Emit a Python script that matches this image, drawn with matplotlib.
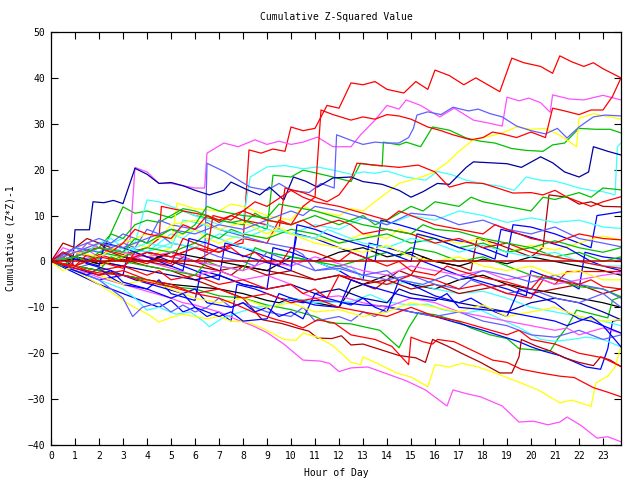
import matplotlib
matplotlib.use("Agg")
import matplotlib.pyplot as plt

# ------------------------------------------------------------
# Data: each walk is a list of (hour, cumulative value) knots
# ------------------------------------------------------------
red_walks = [
    [(0, 0), (1, 1), (2, -1), (3, 1), (4, -0.5), (5, 2), (6, 0), (7, 3), (8, 4), (8.25, 24.3), (8.75, 23.6),
     (9.25, 24.5), (9.75, 24), (10, 29.3), (10.5, 28.5), (11, 29), (11.5, 34), (12, 33.4), (12.5, 38.9),
     (13, 38.5), (13.5, 39.2), (14, 37.5), (14.7, 36.7), (15.2, 39.2), (15.7, 37.5), (16, 41.7), (16.6, 40.5),
     (17.2, 38.5), (17.7, 40), (18.2, 38.5), (18.7, 37), (19.2, 44.3), (19.7, 43.3), (20.4, 42.5), (20.9, 41),
     (21.2, 44.8), (21.7, 43.5), (22.2, 42.5), (22.6, 43.3), (23, 42), (23.75, 40)],
    [(0, 0), (1, -1), (2, 1.5), (3, 0), (4, 2), (5, 1), (6, 3), (7, 2), (8, 5), (9, 4), (9.5, 9), (10, 8),
     (10.5, 12), (11, 14), (11.25, 33), (11.75, 32), (12.5, 30.8), (13, 31.5), (13.5, 31), (14, 32),
     (14.5, 31.7), (15, 31), (15.7, 29.3), (16.25, 28.5), (16.75, 27.6), (17.5, 26.5), (18, 27), (18.4, 28.2),
     (18.8, 27.8), (19.4, 27), (20, 28.2), (20.6, 27), (20.9, 33.4), (21.4, 32.8), (22, 32), (22.5, 33),
     (23, 33), (23.4, 36), (23.75, 40)],
    [(0, 0), (1, 2), (2, 3), (3, 1.5), (4, 3), (4.5, 5), (4.6, 12), (5.5, 11), (6.5, 10), (7, 8.5), (7.5, 10),
     (8, 9), (9, 8), (9.5, 7), (9.75, 16), (10.5, 15), (11, 14), (11.5, 13), (12, 14.5), (12.5, 18),
     (12.75, 21.4), (13.5, 21), (14.5, 20.5), (15.3, 21), (16, 19.5), (16.6, 16.2), (17.3, 17.2), (18, 17),
     (18.6, 16), (19.25, 14.9), (20, 15), (20.5, 14.5), (21, 15.5), (21.5, 14), (22, 13), (22.5, 12),
     (23, 13), (23.75, 14.1)],
    [(0, 0), (1, -1), (2, -2), (3, -1), (4, -3), (4.5, -2), (5, -4), (6, -3), (7, -5), (8, -4), (9, -6),
     (10, -5), (10.5, -7), (11, -6), (11.5, -8), (12, -3), (13, -4), (14, -5), (15, -3), (16, -4), (17, -6),
     (18, -5), (19, -7), (20, -8), (20.5, -4), (21, -5), (21.5, -2.2), (23.75, -2.2)],
    [(0, 0), (0.5, 1), (1, -1), (1.5, 1.5), (2, 0), (3, -1.5), (3.5, 2), (4, 1), (5, -0.5), (5.5, 5), (6, 4),
     (7, 2), (7.5, 3), (8, 1), (8.5, 2), (9, 0), (9.5, -1), (10, 3), (11, 2), (12, 0), (12.5, 2), (13, 1),
     (14, -1), (14.5, 0), (15, -2), (16, -3), (16.5, -1), (17, -2), (18, -3.5), (19, -4.5), (20, -6),
     (20.5, -3), (21, -4), (22, -5), (22.5, -4), (23, -5.5), (23.75, -6)],
    [(0, 0), (0.5, 2), (1, 1), (2, 3), (2.5, 2), (3, 4), (3.5, 7), (4, 6), (5, 5), (5.5, 8), (6, 7),
     (6.5, 10), (7, 9), (8, 11), (8.5, 10), (9, 9), (10, 8), (10.5, 9), (11, 7.5), (12, 9), (12.5, 8),
     (13, 6), (14, 7), (15, 6), (16, 4), (17, 5), (18, 3), (19, 4), (20, 2), (21, 1), (22, 0), (23, -1),
     (23.75, -1.5)],
    [(0, 0), (1, -1), (2, -3), (3, -2), (4, -4), (5, -5), (6, -7), (7, -6), (8, -8), (9, -7), (10, -9),
     (11, -8), (12, -10), (13, -11), (14, -12), (15, -10), (16, -12), (17, -13), (18, -14.5), (19, -16),
     (19.5, -15), (20, -17), (21, -18), (22, -20), (23, -21), (23.75, -22.9)],
    [(0, 0), (1, -1.5), (2, -2.5), (3, -3), (4, -4.5), (5, -5.5), (6, -7), (7, -8), (7.75, -9.5), (8.4, -11),
     (9.4, -12.7), (10, -13.5), (10.5, -14.5), (11.1, -12.7), (11.8, -13.4), (12.5, -16), (13.5, -17),
     (14.2, -18.5), (14.9, -22.5), (15, -16.5), (15.5, -17.5), (15.9, -18), (16.1, -17), (16.8, -17.5),
     (17.6, -19.5), (18.4, -21.5), (19, -22), (19.6, -23.5), (20.4, -24.3), (21.2, -25), (21.8, -25.3),
     (22.6, -27.5), (23.2, -28.5), (23.75, -29.5)],
    [(0, 0), (1, -1), (2, 1), (3, 0), (4, 2), (5, 1), (6, 3), (6.5, 2), (6.75, 10), (7.5, 9), (8.5, 13),
     (9, 12), (10, 15.5), (10.5, 14), (11, 13), (12, 12), (13, 10.5), (14, 9), (14.5, 11), (15, 10), (16, 8),
     (17, 7), (18, 6), (18.5, 8), (19, 7), (20, 5), (21, 4), (22, 6), (23, 5), (23.75, 4.7)],
]

darkred_walks = [
    [(0, 0), (0.5, 1.5), (1, 3), (1.5, 2), (2, 4), (2.5, 3), (3, 2), (4, 1), (5, 0), (6, -1), (7, -2),
     (7.5, -3), (8, -1), (9, -2), (10, -3), (11, -4), (12, -3), (13, -5), (13.5, -6), (14, -4), (14.5, -2),
     (15, -3), (15.5, 1), (16, 0), (17, -1), (17.5, -2), (17.75, 5), (18.5, 4), (19, 3), (19.5, 2), (20, 1),
     (20.5, 3), (20.75, 14.5), (21.5, 14), (22, 12.5), (22.5, 13), (23, 12), (23.75, 11.9)],
    [(0, 0), (1, 1), (2, -0.5), (3, 0.5), (4, -1), (5, -2), (6, -4), (7, -6), (8, -8), (8.8, -12.7),
     (9.6, -13.5), (10.25, -14.5), (10.75, -15.2), (11.1, -16.7), (11.7, -16.8), (12.1, -16.2), (12.5, -18.2),
     (13, -18), (13.6, -19), (14.5, -20.5), (15.2, -21), (15.6, -22), (15.9, -17), (16.5, -18.4), (17.1, -20),
     (17.9, -22), (18.7, -24.3), (19.2, -24.3), (19.5, -20.8), (19.6, -17), (20.2, -18.4), (20.8, -19.5),
     (21.4, -21), (22, -22), (22.6, -22.7), (22.9, -20.8), (23.3, -21.5), (23.75, -22.9)],
    [(0, 0), (0.5, 4), (1, 3), (1.5, 5), (2, 4), (2.5, 2), (3, 1), (4, 0), (5, -1), (5.5, 1), (6, 0),
     (7, -2), (8, -1), (9, -3), (10, -2), (11, -4), (12, -3), (13, -5), (14, -4), (15, -6), (16, -5),
     (17, -7), (18, -6), (19, -5), (20, -7), (21, -6), (22, -5), (23, -7), (23.75, -6)],
]

magenta_walks = [
    [(0, 0), (0.5, -1), (1, 1), (1.5, 2.5), (2, 1), (2.5, 3), (3, 2), (3.3, 5), (3.5, 20.5), (4, 19.5),
     (4.5, 17), (5, 17), (5.5, 16.5), (6, 16), (6.4, 16), (6.5, 23.6), (7.2, 25.8), (7.8, 25), (8.5, 26.5),
     (9, 25.5), (9.5, 26.2), (10, 25.5), (10.5, 26), (11.1, 27.1), (11.75, 25), (12.5, 25), (12.9, 27.6),
     (13.5, 30.8), (14, 34), (14.5, 33.2), (14.8, 35.2), (15.4, 34), (16.2, 31.5), (16.8, 33.4), (17.6, 30.8),
     (18.2, 30.2), (18.8, 29.5), (19, 35.8), (19.5, 35), (19.9, 35.6), (20.4, 34.6), (20.8, 32.5),
     (20.9, 36.3), (21.6, 35.4), (22.2, 35.2), (23, 36.2), (23.75, 35.2)],
    [(0, 0), (0.5, -1), (1, -2), (1.5, -2.5), (2, -3.5), (3, -5), (4, -6.5), (5, -8), (5.5, -9), (6, -9.5),
     (7, -11), (7.75, -12.7), (8.4, -14), (9, -15.5), (9.7, -18), (10.5, -21.5), (11.2, -21.7),
     (11.6, -22.2), (12, -24), (12.5, -23.2), (13.2, -23), (14, -24.5), (14.8, -26), (15.6, -28),
     (16.5, -31.5), (16.75, -28), (17.3, -28.8), (17.9, -29.5), (18.8, -31.5), (19.5, -35), (20.1, -34.8),
     (20.7, -35.6), (21.2, -35), (21.5, -33.9), (22.1, -35.8), (22.75, -38.5), (23.2, -38.2), (23.75, -39.3)],
    [(0, 0), (0.5, 3), (1, 2), (1.5, 1), (2, 0), (2.5, 3), (3, 2), (4, 0), (5, -1.5), (6, -3), (7, -2),
     (8, -4), (9, -3), (10, -5), (10.5, -7), (11, -8), (12, -7.5), (13, -9), (14, -10), (15, -8), (16, -9),
     (17, -11), (18, -12), (19, -13), (20, -14), (21, -15), (21.5, -14.5), (22, -16), (23, -14.5),
     (23.75, -15.6)],
    [(0, 0), (1, 1), (1.5, 4), (2, 3), (3, 2), (4, 1), (5, 2), (6, 0), (7, -1), (8, -2), (9, 0), (10, -1),
     (11, 1), (12, -0.5), (13, -2), (14, -3), (15, -1), (16, -2), (17, -3), (18, -2), (19, -4), (20, -3),
     (21, -5), (22, -4), (23, -3), (23.75, -2.5)],
]

lightblue_walks = [
    [(0, 0), (1, -1.5), (2, 0), (3, -1), (4, 2), (5, 1), (6, 0), (6.4, -0.5), (6.5, 21.4), (7.25, 19.5),
     (8.3, 16.2), (9, 15.5), (9.5, 17), (10, 15.5), (10.75, 15), (11.25, 17), (11.8, 16), (11.9, 27.6),
     (12.5, 26.4), (13, 25.5), (13.5, 26), (14, 25.8), (14.5, 25.8), (14.9, 27), (15.1, 29), (15.25, 31.9),
     (15.7, 32.6), (16.25, 32), (16.75, 33.6), (17.4, 32.8), (17.8, 33.2), (18.3, 32.2), (18.8, 31.5),
     (19.4, 29.5), (20, 28.5), (20.6, 27.8), (21.1, 29), (21.5, 26.9), (22, 29.3), (22.6, 31.5),
     (23.1, 31.9), (23.75, 31.7)],
    [(0, 0), (1, -2), (2, -4), (2.5, -6), (3, -8), (3.4, -12), (3.8, -10), (4.5, -9), (5, -11), (5.5, -9.5),
     (6, -11), (6.5, -10), (7, -8), (7.5, -10), (8, -9), (9, -11), (10, -12), (10.5, -10), (11, -13),
     (12, -12), (12.5, -13), (13, -11), (13.5, -12), (14, -10), (15, -11), (16, -12), (17, -11), (18, -13),
     (19, -14), (20, -16), (21, -16.5), (22, -15), (23, -17), (23.75, -16)],
    [(0, 0), (1, 3), (2, 2), (3, 4), (3.5, 3), (4, 7), (4.5, 6), (5, 4), (6, 3), (7, 1), (8, 0), (8.5, -1),
     (9, 2), (9.5, 1), (10, 0), (11, -2), (12, -1.5), (13, -3), (14, -4), (15, -3), (16, -5), (17, -6),
     (17.5, -4), (18, -5), (19, -7), (20, -6), (21, -8), (22, -9), (23, -7), (23.75, -10)],
    [(0, 0), (0.5, 1), (1, 3), (2, 5), (2.5, 4), (3, 6), (3.5, 5), (4, 4), (4.5, 9), (5, 8), (6, 7),
     (6.5, 8.5), (7, 7), (8, 5.5), (9, 4), (10, 3), (10.5, 1.5), (11, -2), (12, -1), (13, -3), (14, -2),
     (14.5, -4), (15.5, -5), (16.5, -3), (17, -4), (18, -2), (19, -3), (20, -4.5), (21, -3), (22, -5),
     (23, -6), (23.75, -8)],
    [(0, 0), (1, 2), (2, 4), (3, 3), (4, 5), (5, 7), (6, 6), (7, 8), (8, 7), (9, 9), (10, 11), (10.5, 10),
     (11, 12), (12, 11), (13, 9.5), (14, 8), (15, 10.5), (16, 10), (17, 8), (18, 9), (19, 7), (20, 6),
     (21, 7.5), (22, 5), (23, 4), (23.75, 3.2)],
]

cyan_walks = [
    [(0, 0), (0.5, 2), (1, 1), (1.5, 3), (2, 2), (2.5, 4), (3, 5), (3.5, 4), (4, 13.4), (4.5, 13), (5, 12),
     (5.5, 11), (6, 10), (6.5, 9), (7, 8), (7.5, 10), (8, 9), (8.3, 18.4), (9, 20.6), (9.75, 20.9),
     (10.5, 20.2), (11.1, 20.6), (11.75, 19.9), (12.5, 19), (13, 19.5), (13.5, 19.2), (14, 19.7),
     (14.8, 18.4), (15.6, 17.7), (16.1, 19.6), (16.7, 18.9), (17.3, 17.7), (17.9, 17), (18.7, 16.4),
     (19.3, 15.5), (19.8, 18.4), (20.4, 17.7), (21, 17.5), (21.5, 16.8), (22, 16), (22.5, 15.5), (23, 15.2),
     (23.5, 14.5), (23.6, 25), (23.75, 25.8)],
    [(0, 0), (1, -2), (2, -4), (3, -6), (3.5, -8), (4, -10.6), (4.5, -10), (5.2, -11.5), (5.8, -11),
     (6.3, -12.8), (6.6, -14.2), (7.1, -12.5), (7.6, -11.5), (8.5, -10), (9.5, -9.5), (10, -8), (11, -9),
     (12, -8.8), (12.5, -8.8), (13.3, -7.2), (14, -8.8), (14.9, -9.5), (15.7, -9.3), (16.3, -10.5),
     (17.2, -11.3), (17.9, -10.6), (18.7, -12.5), (19.5, -14.4), (20.4, -17), (21, -17.4), (21.7, -17),
     (22.3, -16.5), (23, -17), (23.75, -18.6)],
    [(0, 0), (0.5, 1), (1, 3), (1.5, 2), (2, 4), (2.5, 5), (3, 3), (4, 2), (5, 6), (5.5, 5), (6, 7), (7, 5),
     (7.5, 4), (8, 3), (9, 2), (10, 1), (11, 0), (12, -2), (12.5, -1), (13, -4), (14, -5), (15, -4.5),
     (16, -6), (17, -7), (18, -6.5), (19, -8), (20, -10), (21, -11), (22, -12), (23, -13), (23.75, -14)],
    [(0, 0), (1, -1), (2, 1), (3, 3), (4, 2), (5, 4), (6, 3), (7, 6), (8, 5), (9, 7), (10, 6), (11, 8),
     (12, 7), (13, 9.5), (14, 8), (15, 10), (16, 9), (17, 11), (18, 10), (19, 8.5), (20, 9.5), (21, 8.5),
     (22, 9), (23, 7.5), (23.75, 7.2)],
    [(0, 0), (1, 1), (2, 3), (3, 2), (4, 4), (5, 3), (5.5, 9), (6, 8.5), (7, 7), (8, 6), (9, 8), (10, 6),
     (11, 5), (11.5, 7), (12, 6), (13, 4), (14, 3), (15, 5), (16, 4), (17, 2), (18, 3.5), (19, 2), (20, 1),
     (21, 2), (22, 0), (23, -1), (23.75, -1)],
]

green_walks = [
    [(0, 0), (1, 2), (2, 0.5), (3, 11.9), (3.5, 10.5), (4, 11), (5, 9.5), (5.5, 11), (6, 10), (7, 9),
     (7.5, 8.5), (8, 9), (8.5, 8), (9, 7), (9.25, 18.8), (10, 18.4), (10.5, 19.9), (11.1, 19.2),
     (11.75, 18.4), (12.5, 17.4), (12.9, 21.4), (13.4, 21), (13.8, 20.8), (13.85, 26), (14.5, 25.4),
     (14.8, 26), (15.4, 25), (15.9, 29.3), (16.6, 28.6), (17.3, 26.9), (17.9, 26.2), (18.5, 25.8),
     (19.2, 24.6), (19.8, 24.2), (20.5, 24), (20.9, 25.4), (21.4, 25.8), (22, 29), (22.7, 28.8),
     (23.3, 28.8), (23.75, 28)],
    [(0, 0), (1, -1), (2, -2), (3, -3), (4, -4), (5, -5.5), (6, -6), (7, -7.5), (8, -8), (9, -9.5),
     (10, -10.5), (11, -12), (11.6, -13.4), (12.5, -13.6), (13, -14.2), (13.7, -15), (14.5, -18.8),
     (14.9, -14.5), (15.3, -11.2), (16, -11.6), (16.9, -13), (17.5, -14.5), (18.3, -16), (19, -16.8),
     (19.5, -19), (20.2, -19.3), (20.8, -19.5), (21.1, -17), (21.5, -14.3), (21.9, -10.6), (22.6, -11.5),
     (23.2, -12.3), (23.4, -8.4), (23.75, -7.7)],
    [(0, 0), (0.5, 2), (1, 1), (1.5, 4), (2, 3), (2.5, 6), (3, 5), (3.5, 8), (4, 9), (4.5, 8.5), (5, 10),
     (5.5, 11.5), (6, 11), (7, 9), (8, 8), (8.5, 10.5), (9, 9), (10, 8), (11, 10), (11.5, 9), (12, 8),
     (12.5, 9), (13, 10), (13.5, 8), (14, 9), (15, 12), (15.5, 11), (16, 13), (17, 12), (17.5, 14), (18, 13),
     (19, 12), (20, 11), (20.5, 14), (21, 13.5), (22, 15), (22.5, 14), (23, 16), (23.75, 15.6)],
    [(0, 0), (1, -1), (2, -2), (2.5, 1), (3, 0), (4, -1), (5, -2), (6, -3), (6.5, 0), (7, -1), (8, -2),
     (8.5, 3), (9, 2), (10, 1), (11, 0), (12, -1), (13, 0.5), (14, 2), (14.5, 1), (15, 3), (16, 2), (17, 0),
     (18, 1), (19, -1), (20, -3), (21, -4), (22, -5.5), (23, -6), (23.75, -7.7)],
    [(0, 0), (0.5, -1), (1, 1), (1.5, 0), (2, 2), (3, 1), (4, 3), (5, 2), (6, 4), (6.5, 6), (7, 5), (7.5, 7),
     (8, 6), (9, 5), (10, 7), (11, 6), (12, 4), (13, 5), (14, 6), (15, 4), (16, 5), (17, 3), (18, 4), (19, 2),
     (20, 3), (21, 1), (22, 2), (23, 0), (23.75, 1)],
    [(0, 0), (1, 1), (2, 3), (3, 2), (3.5, 5), (4, 4), (5, 7), (5.5, 6), (6, 8), (6.5, 12), (7, 11), (8, 10),
     (9, 9.5), (9.5, 12.5), (10, 12), (11, 11), (12, 9.5), (13, 8), (14, 7), (15, 6), (15.5, 8), (16, 7),
     (17, 6.5), (18, 5), (19, 4), (20, 3), (21, 4.5), (22, 3), (23, 2), (23.75, 3)],
]

yellow_walks = [
    [(0, 0), (1, 1), (2, -1), (3, 2), (4, 1), (5, 3), (5.25, 12.7), (6, 11.5), (7, 11), (7.5, 12.5), (8, 12),
     (9, 10), (10, 9), (10.5, 12), (11, 11), (12, 10), (12.5, 11.5), (13, 11), (13.5, 13), (14, 15),
     (14.5, 17), (15.5, 18.5), (15.9, 19.3), (16.5, 21.5), (17, 24), (17.6, 26.5), (18.2, 27.2), (18.8, 28),
     (19.4, 29.3), (20, 28.8), (20.6, 29), (21.2, 27.5), (21.9, 25), (22, 31.2), (22.6, 32.2), (23.2, 31.6),
     (23.75, 31)],
    [(0, 0), (0.5, -1), (1, -2), (1.5, -3.5), (2, -5), (2.6, -7), (3.3, -9.5), (4.1, -11.7), (4.5, -13.2),
     (5, -12.2), (5.5, -11.5), (6, -12), (6.5, -12.5), (7, -12), (7.5, -13), (8.2, -13.2), (8.8, -14.5),
     (9.7, -17), (10.2, -17.2), (10.5, -15.6), (11.1, -16.5), (11.7, -18.2), (12.1, -20), (12.5, -22),
     (12.9, -22.5), (13, -20.8), (13.7, -22.5), (14.4, -24.3), (15, -25.2), (15.7, -27.3), (16, -22.5),
     (16.6, -23), (17.1, -22.2), (17.8, -23), (18.6, -24.5), (19.5, -26.3), (20.3, -28), (21.2, -30.8),
     (21.7, -30.2), (22.5, -31.6), (22.7, -26.5), (23.2, -25), (23.5, -23), (23.75, -18.6)],
    [(0, 0), (1, 1), (2, -1), (3, 1), (3.5, 4), (4, 3), (4.5, 6), (5, 5), (6, 7), (6.5, 5), (7, 4), (8, 6),
     (9, 5), (9.5, 7), (10, 6), (11, 5), (12, 4), (13, 6), (14, 5), (14.5, 7), (15, 6), (16, 5), (17, 4),
     (18, 5), (18.5, 3), (19, 2), (20, 3.5), (21, 2.5), (22, 4), (23, 5.5), (23.75, 4.7)],
    [(0, 0), (0.5, -2), (1, -1), (2, -3), (3, -5), (4, -4), (5, -6), (6, -8), (7, -9), (8, -8), (9, -10),
     (10, -9), (11, -11), (12, -10.5), (13, -12), (14, -11), (15, -9), (16, -10), (17, -11), (18, -9.5),
     (19, -12), (20, -11), (21, -10), (22, -12), (23, -13), (23.75, -12.7)],
    [(0, 0), (1, 2), (2, 1), (3, 4), (4, 6), (4.5, 5), (5, 8), (6, 9), (7, 7), (8, 8.5), (9, 6), (9.5, 7.5),
     (10, 6), (11, 4), (12, 3), (13, 2), (14, 3.5), (15, 1), (16, 0), (17, 1), (18, -1), (19, -2), (20, -1),
     (21, -3), (22, -2), (23, -4), (23.75, -4)],
]

blue_walks = [
    [(0, 0), (1, -2), (2, -4), (3, -3), (3.25, 3), (4, 2), (5, 0), (6, -2), (7, -4), (7.25, 4), (8, 3),
     (9, 1), (10, -1), (10.25, 6), (11, 5), (12, 3), (13, 1), (13.5, 0), (13.75, 9), (14.5, 8), (15.5, 6.5),
     (16.5, 5), (17.5, 4), (18.5, 2), (19, 1), (19.25, 8), (20, 7.5), (21, 6), (22, 4), (22.5, 3),
     (22.75, 10), (23.75, 10.8)],
    [(0, 0), (1, -2.5), (2, -5), (3, -7), (4, -9), (4.5, -10), (5, -8.5), (5.5, -11), (6, -10), (6.5, -12),
     (7, -11), (7.5, -13), (7.75, -5), (8.5, -6), (9.5, -8), (10.5, -9), (11, -8.5), (12, -8.8), (13, -9.5),
     (14, -9.8), (15, -11), (16, -12), (17, -13.5), (18, -15), (19.5, -17.5), (20, -18.6), (20.5, -19.5),
     (21.2, -20.5), (22.3, -23), (22.9, -23.5), (23.2, -19), (23.4, -13), (23.75, -12.7)],
    [(0, 0), (0.5, -1), (1.5, -3), (2, -1.5), (2.5, -3.5), (3, -5), (4, -6), (4.5, -4), (5, -7), (6, -8.5),
     (6.25, -2), (7, -3), (8, -5), (9, -6), (9.25, 3), (10, 2), (11, 0), (12, -2), (12.5, -3.5), (13, -4),
     (13.25, 4), (14, 3), (15, 1.5), (15.5, 0), (16, -1), (17, -3), (18, -4.5), (19, -6), (19.8, -7.5),
     (20, -2), (20.5, -3), (21.5, -4.5), (22, -6), (22.25, 2), (23, 1), (23.75, 0.5)],
    [(0, 0), (1, 1), (1.5, -0.5), (2.5, -2), (3.5, -4), (4.5, -5.5), (5.5, -7), (6, -6), (6.5, -9),
     (7.5, -10), (8, -9), (8.5, -11), (9, -10), (9.5, -12), (10, -11), (10.5, -12.5), (11, -7), (11.5, -8),
     (12.5, -9.5), (13, -8), (13.5, -10), (14, -11), (14.5, -4), (15, -5), (16, -7.5), (17, -9), (17.5, -8),
     (18.5, -11), (19, -12), (19.5, -6), (20, -7), (21, -9), (21.5, -11), (22, -12.5), (22.5, -13),
     (23, -14), (23.75, -15.6)],
    [(0, 0), (0.5, 2), (1, 0.5), (2, -1), (2.25, 4), (3, 3), (4, 1), (5, -1), (5.5, -2), (5.75, 5),
     (6.5, 4), (7.5, 2), (8.5, 0.5), (9.5, -1), (10, -2), (10.25, 8), (11, 7), (12, 5), (13, 3.5), (14, 2),
     (14.5, 1), (15, 0), (15.25, 6), (16, 5), (17, 3), (18, 1.5), (18.5, 0.5), (18.75, 7), (19.5, 6),
     (20.5, 4.5), (21.5, 3), (22, 1.5), (22.5, 0), (23, -1), (23.75, -2)],
    [(0, 0), (1, -1.5), (2, -3), (2.5, -2), (3, -4.5), (4, -6), (5, -8), (5.5, -7), (6, -10), (7, -12),
     (7.5, -11), (8, -13), (9, -12.5), (9.5, -7), (10, -8), (11, -9.5), (12, -10), (12.5, -4), (13, -5),
     (14, -6.5), (15, -8), (16, -8.5), (16.5, -7), (17, -10), (18, -10.5), (19, -11), (20, -12), (21, -13),
     (21.5, -14), (22, -13), (22.5, -12), (23, -14), (23.75, -18.6)],
]

navy_walks = [
    [(0, 0), (0.5, 0.5), (0.9, -1), (1, 6.9), (1.6, 6.9), (1.75, 13), (2.2, 12.8), (2.6, 13.3), (3, 12.6),
     (3.5, 20.3), (4, 19), (4.5, 17), (5, 17.2), (5.5, 16.5), (6, 15.5), (6.6, 14.5), (7.2, 15.5),
     (7.5, 17.3), (8.1, 15.8), (8.7, 14.5), (9.1, 16.2), (9.7, 13.4), (10.1, 18.4), (10.6, 17.5),
     (11.1, 16.2), (11.75, 18.2), (12.5, 18.4), (13, 17.4), (13.8, 16.8), (14.5, 15.5), (15, 14),
     (15.5, 15.2), (16.1, 17), (16.6, 16.8), (17.3, 20.5), (17.6, 21.7), (18.3, 21.5), (19, 21.3),
     (19.6, 20.5), (20.4, 22.8), (20.9, 21.5), (21.4, 19.5), (22, 18.4), (22.4, 19.5), (22.6, 25),
     (23.2, 24), (23.75, 23.2)],
    [(0, 0), (1, 1), (2, 0), (3, -1), (4, -2), (5, -3), (6, -4), (7, -3), (8, -5), (9, -6), (10, -5),
     (11, -7), (12, -6), (13, -8), (14, -9), (14.5, -6), (15, -7), (16, -8), (17, -9), (18, -10), (19, -11),
     (20, -9), (21, -8), (22, -9), (23, -11), (23.75, -12.7)],
]

black_walks = [
    [(0, 0), (1, -1), (2, -2), (3, -3), (4, -4), (5, -5), (6, -5.5), (7, -6), (8, -7), (9, -8.5), (9.5, -9),
     (10, -8), (11, -9), (12, -10), (12.5, -6), (13, -5), (14, -3), (15, -5), (16, -6), (17, -4), (18, -3),
     (19, -5), (20, -6), (21, -7), (22, -8), (23, -9), (23.75, -10)],
    [(0, 0), (1, 0.5), (2, -0.5), (3, 1), (4, 0), (5, 2), (6, 1), (7, 0), (8, -1), (9, -2), (10, 1), (11, 0),
     (12, 2), (13, 3), (14, 1), (15, 2), (16, 0), (17, -1), (18, 0.5), (19, -0.5), (20, 1), (21, 0),
     (22, -1), (23, -2), (23.75, -3)],
]

zero_level = 0.0
x_ticks = list(range(0, 24))
y_ticks = list(range(-40, 51, 10))

# gnuplot-like line colours
groups = [
    (red_walks, "#ff0000"),
    (green_walks, "#00c000"),
    (blue_walks, "#0000ff"),
    (magenta_walks, "#ff50ff"),
    (cyan_walks, "#40ffff"),
    (darkred_walks, "#b00000"),
    (yellow_walks, "#ffff00"),
    (black_walks, "#000000"),
    (lightblue_walks, "#6060ff"),
    (navy_walks, "#0000a0"),
]

# ------------------------------------------------------------
# Figure
# ------------------------------------------------------------
plt.rcParams["font.family"] = "DejaVu Sans Mono"
fig = plt.figure(figsize=(6.4, 4.8), dpi=100)
ax = fig.add_axes([51 / 640, 1 - 445 / 480, 570 / 640, 413 / 480])

# interleave colours so later lines paint over earlier ones like gnuplot
longest = max(len(g[0]) for g in groups)
for i in range(longest):
    for walks, colour in groups:
        if i < len(walks):
            hours = [p[0] for p in walks[i]]
            vals = [p[1] for p in walks[i]]
            ax.plot(hours, vals, color=colour, lw=0.9)

ax.axhline(zero_level, color="#c00000", lw=1.1)

ax.set_xlim(0, 23.75)
ax.set_ylim(-40, 50)
ax.set_xticks(x_ticks)
ax.set_yticks(y_ticks)
ax.tick_params(direction="in", length=5, width=0.8, top=True, right=True,
               labelsize=7, pad=4)
for s in ax.spines.values():
    s.set_linewidth(0.9)

ax.set_title("Cumulative Z-Squared Value", fontsize=7, pad=9)
ax.set_xlabel("Hour of Day", fontsize=7, labelpad=5)
ax.set_ylabel("Cumulative (Z*Z)-1", fontsize=7, labelpad=9)

fig.savefig("out.png", dpi=100)
